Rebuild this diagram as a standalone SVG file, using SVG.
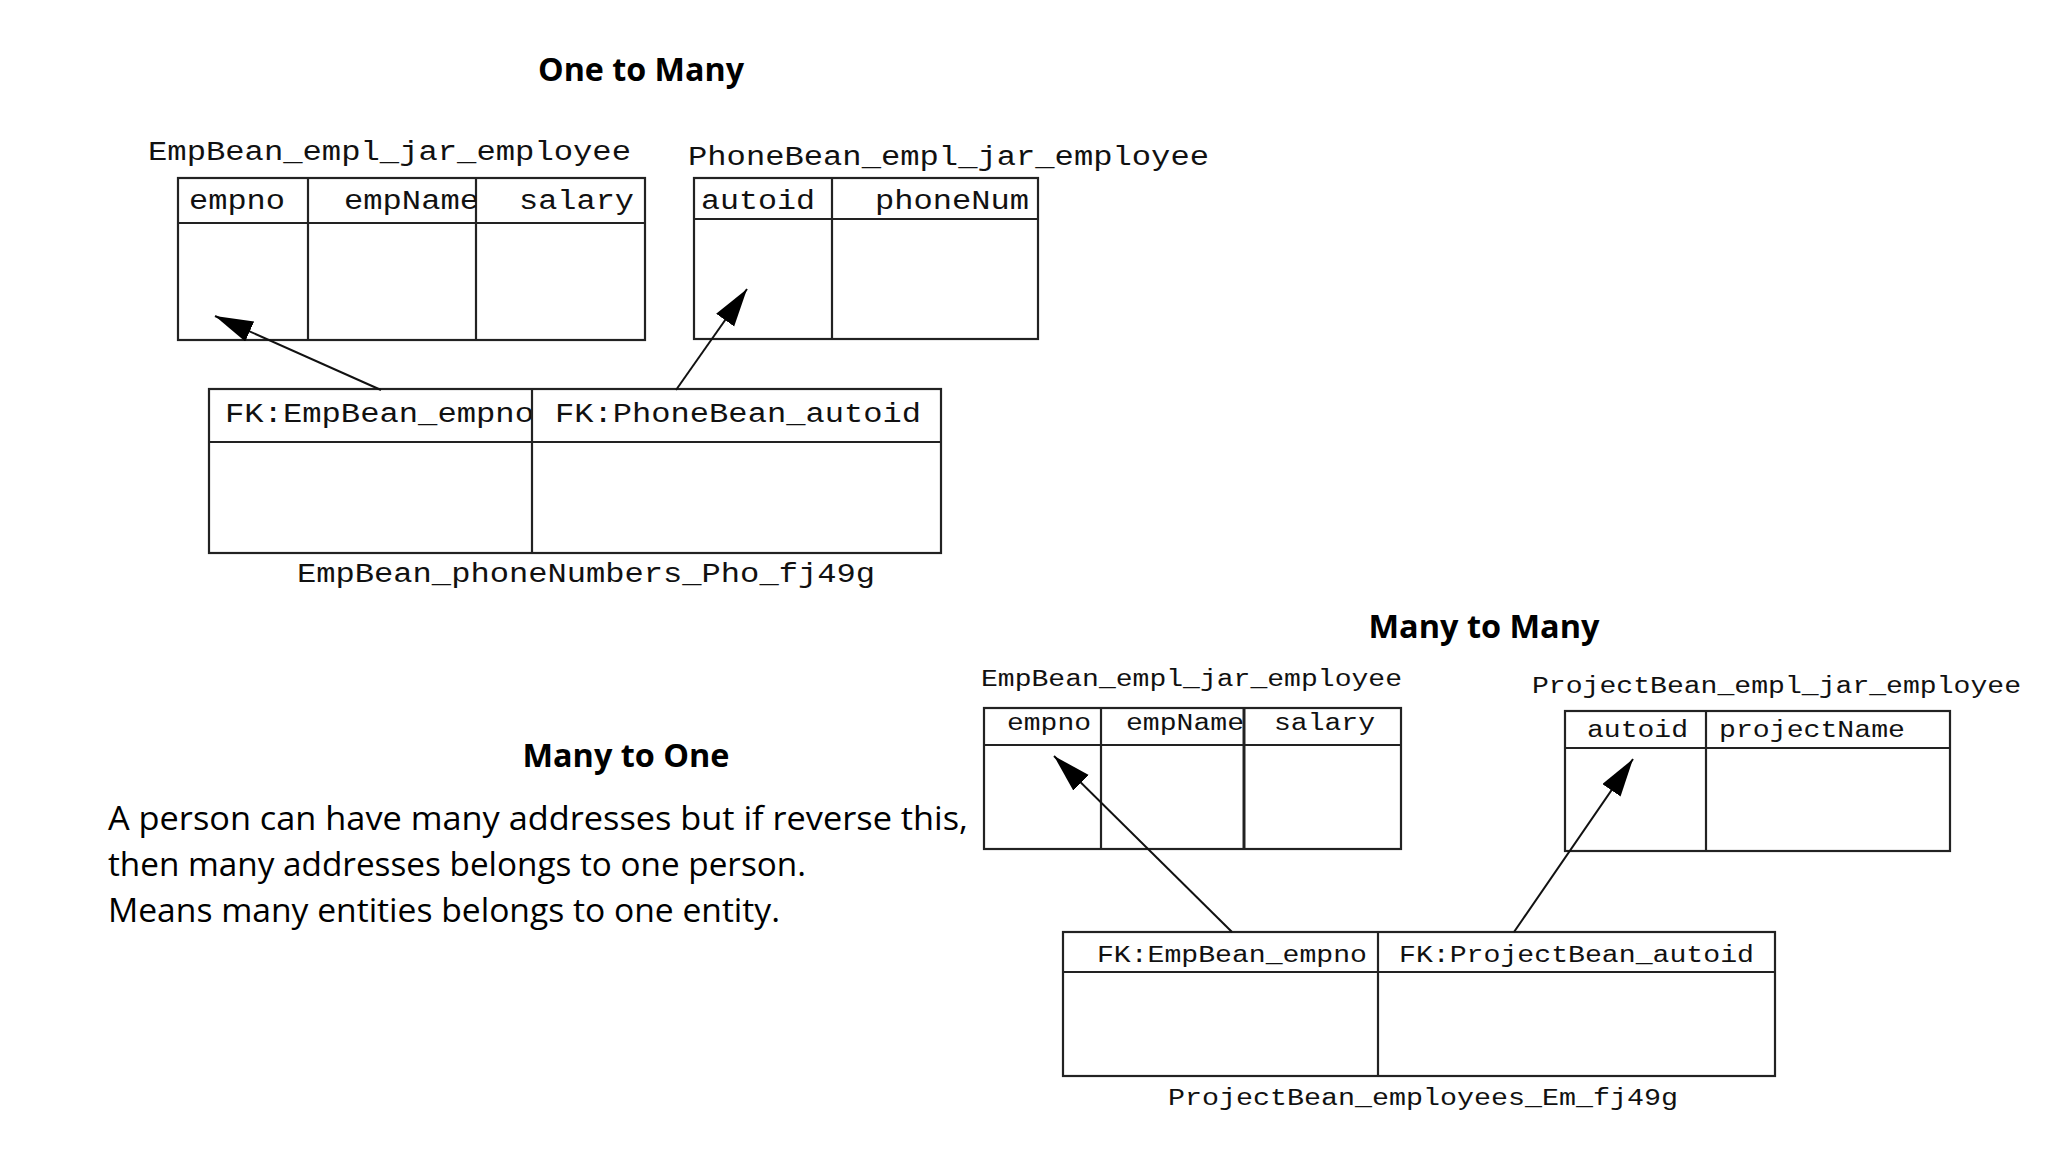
<svg xmlns="http://www.w3.org/2000/svg" width="2048" height="1152" viewBox="0 0 2048 1152">
<style>
.t{font-family:"Open Sans","Noto Sans",sans-serif;font-weight:bold;font-size:32px;fill:#000}
.p{font-family:"Open Sans","Noto Sans",sans-serif;font-size:32px;fill:#000}
.m{font-family:"Liberation Mono","DejaVu Sans Mono",monospace;font-size:27px;fill:#111}
.s{font-family:"Liberation Mono","DejaVu Sans Mono",monospace;font-size:23px;fill:#111}
.b{fill:none;stroke:#222;stroke-width:2.2}
.c{stroke:#222;stroke-width:2.2}
.e{stroke:#111;stroke-width:2;fill:none}
</style>
<defs>
<marker id="ah" markerUnits="userSpaceOnUse" markerWidth="40" markerHeight="24" refX="38" refY="11" orient="auto">
<path d="M0,0 L38,11 L0,22 z" fill="#000"/>
</marker>
<clipPath id="cEmpName1"><rect x="310" y="180" width="166" height="42"/></clipPath>
<clipPath id="cFk1"><rect x="211" y="391" width="320" height="50"/></clipPath>
<clipPath id="cEmpName2"><rect x="1103" y="710" width="140" height="34"/></clipPath>
</defs>
<rect width="2048" height="1152" fill="#fff"/>

<g id="titles">
<text class="t" x="641" y="81" text-anchor="middle" textLength="206" lengthAdjust="spacingAndGlyphs">One to Many</text>
<text class="t" x="626" y="767" text-anchor="middle" textLength="207" lengthAdjust="spacingAndGlyphs">Many to One</text>
<text class="t" x="1484" y="638" text-anchor="middle" textLength="231" lengthAdjust="spacingAndGlyphs">Many to Many</text>
</g>

<g id="description">
<text class="p" x="108" y="830" textLength="860" lengthAdjust="spacingAndGlyphs">A person can have many addresses but if reverse this,</text>
<text class="p" x="108" y="876" textLength="698" lengthAdjust="spacingAndGlyphs">then many addresses belongs to one person.</text>
<text class="p" x="108" y="922" textLength="672" lengthAdjust="spacingAndGlyphs">Means many entities belongs to one entity.</text>
</g>

<!-- One to Many -->
<g id="emp1">
<text class="m" x="148" y="160" textLength="483" lengthAdjust="spacingAndGlyphs">EmpBean_empl_jar_employee</text>
<rect class="b" x="178" y="178" width="467" height="162"/>
<line class="c" x1="178" y1="223" x2="645" y2="223"/>
<line class="c" x1="308" y1="178" x2="308" y2="340"/>
<line class="c" x1="476" y1="178" x2="476" y2="340"/>
<text class="m" x="189" y="209" textLength="96" lengthAdjust="spacingAndGlyphs">empno</text>
<g clip-path="url(#cEmpName1)"><text class="m" x="344" y="209" textLength="135" lengthAdjust="spacingAndGlyphs">empName</text></g>
<text class="m" x="519" y="209" textLength="115" lengthAdjust="spacingAndGlyphs">salary</text>
</g>

<g id="phone1">
<text class="m" x="688" y="165" textLength="521" lengthAdjust="spacingAndGlyphs">PhoneBean_empl_jar_employee</text>
<rect class="b" x="694" y="178" width="344" height="161"/>
<line class="c" x1="694" y1="219" x2="1038" y2="219"/>
<line class="c" x1="832" y1="178" x2="832" y2="339"/>
<text class="m" x="701" y="209" textLength="114" lengthAdjust="spacingAndGlyphs">autoid</text>
<text class="m" x="875" y="209" textLength="154" lengthAdjust="spacingAndGlyphs">phoneNum</text>
</g>

<g id="join1">
<rect class="b" x="209" y="389" width="732" height="164"/>
<line class="c" x1="209" y1="442" x2="941" y2="442"/>
<line class="c" x1="532" y1="389" x2="532" y2="553"/>
<g clip-path="url(#cFk1)"><text class="m" x="225" y="422" textLength="309" lengthAdjust="spacingAndGlyphs">FK:EmpBean_empno</text></g>
<text class="m" x="555" y="422" textLength="366" lengthAdjust="spacingAndGlyphs">FK:PhoneBean_autoid</text>
<text class="m" x="297" y="582" textLength="578" lengthAdjust="spacingAndGlyphs">EmpBean_phoneNumbers_Pho_fj49g</text>
</g>

<!-- Many to Many -->
<g id="emp2">
<text class="s" x="981" y="686" textLength="421" lengthAdjust="spacingAndGlyphs">EmpBean_empl_jar_employee</text>
<rect class="b" x="984" y="708" width="417" height="141"/>
<line class="c" x1="984" y1="745" x2="1401" y2="745"/>
<line class="c" x1="1101" y1="708" x2="1101" y2="849"/>
<line class="c" x1="1244" y1="708" x2="1244" y2="849" style="stroke-width:3"/>
<text class="s" x="1007" y="730" textLength="84" lengthAdjust="spacingAndGlyphs">empno</text>
<g clip-path="url(#cEmpName2)"><text class="s" x="1126" y="730" textLength="118" lengthAdjust="spacingAndGlyphs">empName</text></g>
<text class="s" x="1274" y="730" textLength="101" lengthAdjust="spacingAndGlyphs">salary</text>
</g>

<g id="project2">
<text class="s" x="1532" y="693" textLength="489" lengthAdjust="spacingAndGlyphs">ProjectBean_empl_jar_employee</text>
<rect class="b" x="1565" y="711" width="385" height="140"/>
<line class="c" x1="1565" y1="748" x2="1950" y2="748"/>
<line class="c" x1="1706" y1="711" x2="1706" y2="851"/>
<text class="s" x="1587" y="737" textLength="101" lengthAdjust="spacingAndGlyphs">autoid</text>
<text class="s" x="1719" y="737" textLength="186" lengthAdjust="spacingAndGlyphs">projectName</text>
</g>

<g id="join2">
<rect class="b" x="1063" y="932" width="712" height="144"/>
<line class="c" x1="1063" y1="972" x2="1775" y2="972"/>
<line class="c" x1="1378" y1="932" x2="1378" y2="1076"/>
<text class="s" x="1097" y="962" textLength="270" lengthAdjust="spacingAndGlyphs">FK:EmpBean_empno</text>
<text class="s" x="1399" y="962" textLength="355" lengthAdjust="spacingAndGlyphs">FK:ProjectBean_autoid</text>
<text class="s" x="1168" y="1105" textLength="510" lengthAdjust="spacingAndGlyphs">ProjectBean_employees_Em_fj49g</text>
</g>

<g id="connectors">
<line class="e" x1="381" y1="390" x2="215" y2="316" marker-end="url(#ah)"/>
<line class="e" x1="676" y1="390" x2="747" y2="289" marker-end="url(#ah)"/>
<line class="e" x1="1232" y1="932" x2="1054" y2="756" marker-end="url(#ah)"/>
<line class="e" x1="1514" y1="932" x2="1633" y2="759" marker-end="url(#ah)"/>
</g>
</svg>
